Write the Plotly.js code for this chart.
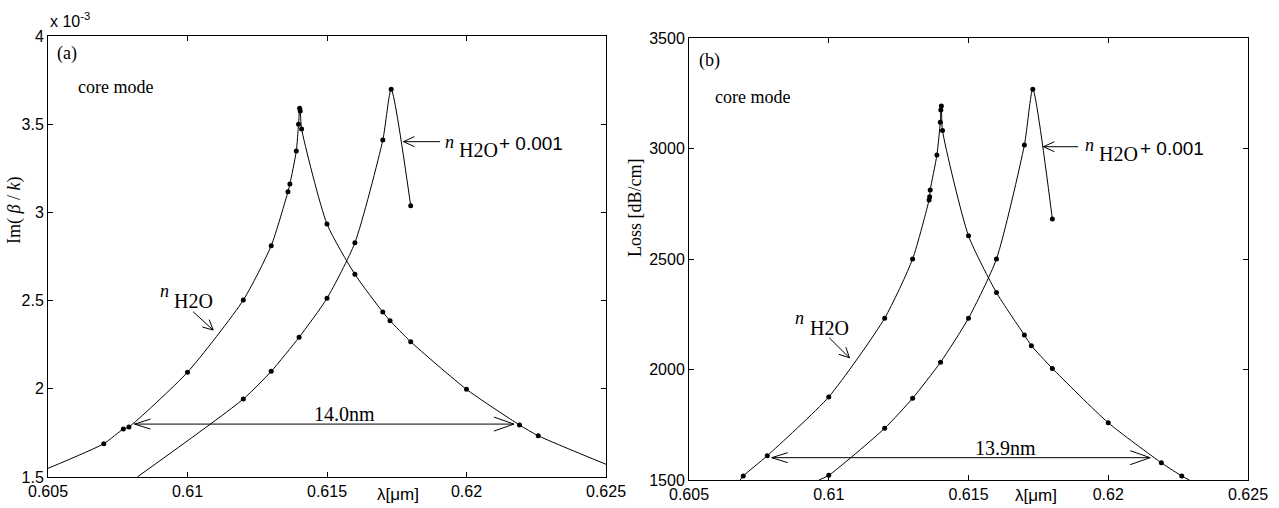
<!DOCTYPE html>
<html>
<head>
<meta charset="utf-8">
<script src="https://cdn.plot.ly/plotly-3.0.1.min.js"></script>
<style>html,body{margin:0;padding:0;background:#fff;}#chart{width:1279px;height:508px;}</style>
</head>
<body>
<div id="chart"></div>
<script>
// ---------------- data ----------------
// Panel (a): Im(beta/k), in units of 1e-3
const aWaterLineX = [0.605, 0.607, 0.6077, 0.6079, 0.610, 0.612, 0.613, 0.6136, 0.61367, 0.6139, 0.61398, 0.61402, 0.61404, 0.61409, 0.615, 0.616, 0.617, 0.61726, 0.618, 0.620, 0.6219, 0.62257, 0.625];
const aWaterLineY = [1.549, 1.689, 1.772, 1.784, 2.094, 2.503, 2.811, 3.117, 3.161, 3.348, 3.500, 3.590, 3.575, 3.473, 2.934, 2.649, 2.435, 2.386, 2.267, 1.997, 1.795, 1.734, 1.572];
const aWaterDotX = [0.607, 0.6077, 0.6079, 0.610, 0.612, 0.613, 0.6136, 0.61367, 0.6139, 0.61398, 0.61402, 0.61404, 0.61409, 0.615, 0.616, 0.617, 0.61726, 0.618, 0.620, 0.6219, 0.62257];
const aWaterDotY = [1.689, 1.772, 1.784, 2.094, 2.503, 2.811, 3.117, 3.161, 3.348, 3.500, 3.590, 3.575, 3.473, 2.934, 2.649, 2.435, 2.386, 2.267, 1.997, 1.795, 1.734];
const aShiftLineX = [0.6082, 0.612, 0.613, 0.614, 0.615, 0.616, 0.617, 0.6173, 0.618];
const aShiftLineY = [1.500, 1.942, 2.099, 2.292, 2.513, 2.828, 3.410, 3.698, 3.038];
const aShiftDotX = [0.612, 0.613, 0.614, 0.615, 0.616, 0.617, 0.6173, 0.618];
const aShiftDotY = [1.942, 2.099, 2.292, 2.513, 2.828, 3.410, 3.698, 3.038];

// Panel (b): Loss [dB/cm]
const bWaterLineX = [0.60683, 0.60694, 0.6078, 0.610, 0.612, 0.613, 0.61359, 0.61361, 0.61363, 0.61387, 0.61399, 0.61401, 0.61403, 0.61407, 0.615, 0.616, 0.617, 0.61725, 0.618, 0.620, 0.6219, 0.62263, 0.6229];
const bWaterLineY = [1500, 1518, 1610, 1876, 2232, 2500, 2767, 2782, 2812, 2971, 3119, 3174, 3192, 3081, 2605, 2348, 2156, 2108, 2005, 1759, 1578, 1518, 1500];
const bWaterDotX = [0.60694, 0.6078, 0.610, 0.612, 0.613, 0.61359, 0.61361, 0.61363, 0.61387, 0.61399, 0.61401, 0.61403, 0.61407, 0.615, 0.616, 0.617, 0.61725, 0.618, 0.620, 0.6219, 0.62263];
const bWaterDotY = [1518, 1610, 1876, 2232, 2500, 2767, 2782, 2812, 2971, 3119, 3174, 3192, 3081, 2605, 2348, 2156, 2108, 2005, 1759, 1578, 1518];
const bShiftLineX = [0.60965, 0.610, 0.612, 0.613, 0.614, 0.615, 0.616, 0.617, 0.6173, 0.618];
const bShiftLineY = [1500, 1521, 1734, 1870, 2033, 2232, 2500, 3016, 3268, 2681];
const bShiftDotX = [0.610, 0.612, 0.613, 0.614, 0.615, 0.616, 0.617, 0.6173, 0.618];
const bShiftDotY = [1521, 1734, 1870, 2033, 2232, 2500, 3016, 3268, 2681];

// Ticks
const xTickVals = [0.605, 0.61, 0.615, 0.62, 0.625];
const xTickText = ['0.605', '0.61', '0.615', '0.62', '0.625'];
const aYTickVals = [1.5, 2, 2.5, 3, 3.5, 4];
const aYTickText = ['1.5', '2', '2.5', '3', '3.5', '4'];
const bYTickVals = [1500, 2000, 2500, 3000, 3500];
const bYTickText = ['1500', '2000', '2500', '3000', '3500'];

// Annotation anchors (data coordinates)
const aSpan = {x0: 0.6081, x1: 0.6217, y: 1.80, label: '14.0nm'};
const bSpan = {x0: 0.60796, x1: 0.6215, y: 1601, label: '13.9nm'};

// ---------------- layout helpers ----------------
const W = 1279, H = 508;
const SERIF = '"Liberation Serif", "Times New Roman", serif';
const SANS = '"Liberation Sans", Arial, sans-serif';
const dom = {
  x:  [48 / W, 606 / W],  y:  [1 - 477 / H, 1 - 36 / H],
  x2: [689 / W, 1248 / W], y2: [1 - 480 / H, 1 - 38 / H]
};
const ranges = {x: [0.605, 0.625], y: [1.5, 4], x2: [0.605, 0.625], y2: [1500, 3500]};

function lineTrace(x, y, xa, ya) {
  return {x: x, y: y, xaxis: xa, yaxis: ya, mode: 'lines', type: 'scatter',
    line: {color: '#000', width: 1, shape: 'spline', smoothing: 0.6}, hoverinfo: 'skip'};
}
function dotTrace(x, y, xa, ya) {
  return {x: x, y: y, xaxis: xa, yaxis: ya, mode: 'markers', type: 'scatter',
    marker: {color: '#000', size: 5}, hoverinfo: 'skip'};
}

const data = [
  lineTrace(aWaterLineX, aWaterLineY, 'x', 'y'), dotTrace(aWaterDotX, aWaterDotY, 'x', 'y'),
  lineTrace(aShiftLineX, aShiftLineY, 'x', 'y'), dotTrace(aShiftDotX, aShiftDotY, 'x', 'y'),
  lineTrace(bWaterLineX, bWaterLineY, 'x2', 'y2'), dotTrace(bWaterDotX, bWaterDotY, 'x2', 'y2'),
  lineTrace(bShiftLineX, bShiftLineY, 'x2', 'y2'), dotTrace(bShiftDotX, bShiftDotY, 'x2', 'y2')
];

function axis(domain, range, tv, tt, anchor) {
  return {domain: domain, range: range, tickmode: 'array', tickvals: tv, ticktext: tt,
    ticks: 'inside', ticklen: 5, tickwidth: 1, tickcolor: '#000',
    showline: true, linecolor: '#000', linewidth: 1, mirror: 'ticks',
    showgrid: false, zeroline: false, anchor: anchor, automargin: false,
    tickfont: {family: SANS, size: 16, color: '#000'}, fixedrange: true};
}

// pixel scale (px per data unit) to orient arrow heads
function pxScale(xa, ya) {
  const sx = (dom[xa][1] - dom[xa][0]) * W / (ranges[xa][1] - ranges[xa][0]);
  const sy = (dom[ya][1] - dom[ya][0]) * H / (ranges[ya][1] - ranges[ya][0]);
  return [sx, sy];
}
const shapes = [];
function seg(xa, ya, x0, y0, x1, y1) {
  shapes.push({type: 'line', xref: xa, yref: ya, x0: x0, y0: y0, x1: x1, y1: y1,
    line: {color: '#000', width: 1}});
}
function head(xa, ya, tail, tip, len, half) {
  const s = pxScale(xa, ya);
  let dx = (tip[0] - tail[0]) * s[0], dy = (tip[1] - tail[1]) * s[1];
  const n = Math.hypot(dx, dy); dx /= n; dy /= n;
  const bx = -dx * len, by = -dy * len, qx = -dy * half, qy = dx * half;
  const path = 'M ' + (bx + qx).toFixed(2) + ' ' + (by + qy).toFixed(2) + ' L 0 0 L ' +
    (bx - qx).toFixed(2) + ' ' + (by - qy).toFixed(2);
  shapes.push({type: 'path', xref: xa, yref: ya, xsizemode: 'pixel', ysizemode: 'pixel',
    xanchor: tip[0], yanchor: tip[1], path: path, line: {color: '#000', width: 1}});
}
function arrow(xa, ya, tail, tip, len, half) {
  seg(xa, ya, tail[0], tail[1], tip[0], tip[1]);
  head(xa, ya, tail, tip, len, half);
}
function spanArrow(xa, ya, sp) {
  seg(xa, ya, sp.x0, sp.y, sp.x1, sp.y);
  head(xa, ya, [sp.x1, sp.y], [sp.x0, sp.y], 16, 5);
  head(xa, ya, [sp.x0, sp.y], [sp.x1, sp.y], 20, 7);
}

// Panel (a) arrows
spanArrow('x', 'y', aSpan);
arrow('x', 'y', [0.61905, 3.401], [0.61774, 3.401], 11, 5);
arrow('x', 'y', [0.6102, 2.437], [0.61092, 2.333], 10, 5);
// Panel (b) arrows
spanArrow('x2', 'y2', bSpan);
arrow('x2', 'y2', [0.61892, 3008], [0.61768, 3008], 11, 5);
arrow('x2', 'y2', [0.61002, 2143], [0.61074, 2053], 10, 5);

function txt(xa, ya, x, y, text, font, opts) {
  return Object.assign({xref: xa, yref: ya, x: x, y: y, text: text, showarrow: false,
    xanchor: 'left', yanchor: 'middle', font: font}, opts || {});
}
const fSerif = {family: SERIF, size: 18, color: '#000'};
const fSerifBig = {family: SERIF, size: 20, color: '#000'};
const fSans = {family: SANS, size: 16, color: '#000'};
const fSansBig = {family: SANS, size: 19, color: '#000'};
const fLam = {family: SANS, size: 17, color: '#000'};

const annotations = [
  // panel (a)
  txt('x', 'y', 0.60525, 3.898, '(a)', fSerif),
  txt('x', 'y', 0.60600, 3.711, 'core mode', fSerif),
  txt('x', 'y', 0.60894, 2.552, '<i>n</i>', fSerif),
  txt('x', 'y', 0.60944, 2.498, 'H2O', fSerifBig),
  txt('x', 'y', 0.61916, 3.401, '<i>n</i>', fSerif),
  txt('x', 'y', 0.61966, 3.354, 'H2O', fSerifBig),
  txt('x', 'y', 0.62109, 3.391, '+ 0.001', fSansBig),
  txt('x', 'y', 0.61446, 1.857, aSpan.label, fSerifBig),
  txt('paper', 'paper', 48 / W, 1 - 20 / H, 'x 10<sup>-3</sup>', fSans),
  txt('paper', 'paper', 15 / W, 1 - 211 / H, 'Im( <i>β</i> / <i>k</i>)', fSerif, {xanchor: 'center', textangle: -90}),
  txt('paper', 'paper', 398 / W, 1 - 494 / H, 'λ[μm]', fLam, {xanchor: 'center'}),
  // panel (b)
  txt('x2', 'y2', 0.60529, 3396, '(b)', fSerif),
  txt('x2', 'y2', 0.60586, 3233, 'core mode', fSerif),
  txt('x2', 'y2', 0.60872, 2233, '<i>n</i>', fSerif),
  txt('x2', 'y2', 0.60926, 2190, 'H2O', fSerifBig),
  txt('x2', 'y2', 0.61910, 3016, '<i>n</i>', fSerif),
  txt('x2', 'y2', 0.61960, 2975, 'H2O', fSerifBig),
  txt('x2', 'y2', 0.62107, 3002, '+ 0.001', fSansBig),
  txt('x2', 'y2', 0.61516, 1647, bSpan.label, fSerifBig),
  txt('paper', 'paper', 635 / W, 1 - 208 / H, 'Loss [dB/cm]', fSerif, {xanchor: 'center', textangle: -90}),
  txt('paper', 'paper', 1036 / W, 1 - 495 / H, 'λ[μm]', fLam, {xanchor: 'center'})
];

const layout = {
  width: W, height: H, margin: {l: 0, r: 0, t: 0, b: 0},
  paper_bgcolor: '#fff', plot_bgcolor: '#fff', showlegend: false,
  xaxis: axis(dom.x, ranges.x, xTickVals, xTickText, 'y'),
  yaxis: axis(dom.y, ranges.y, aYTickVals, aYTickText, 'x'),
  xaxis2: axis(dom.x2, ranges.x2, xTickVals, xTickText, 'y2'),
  yaxis2: axis(dom.y2, ranges.y2, bYTickVals, bYTickText, 'x2'),
  shapes: shapes, annotations: annotations
};

Plotly.newPlot('chart', data, layout, {staticPlot: true, displayModeBar: false});
</script>
</body>
</html>
